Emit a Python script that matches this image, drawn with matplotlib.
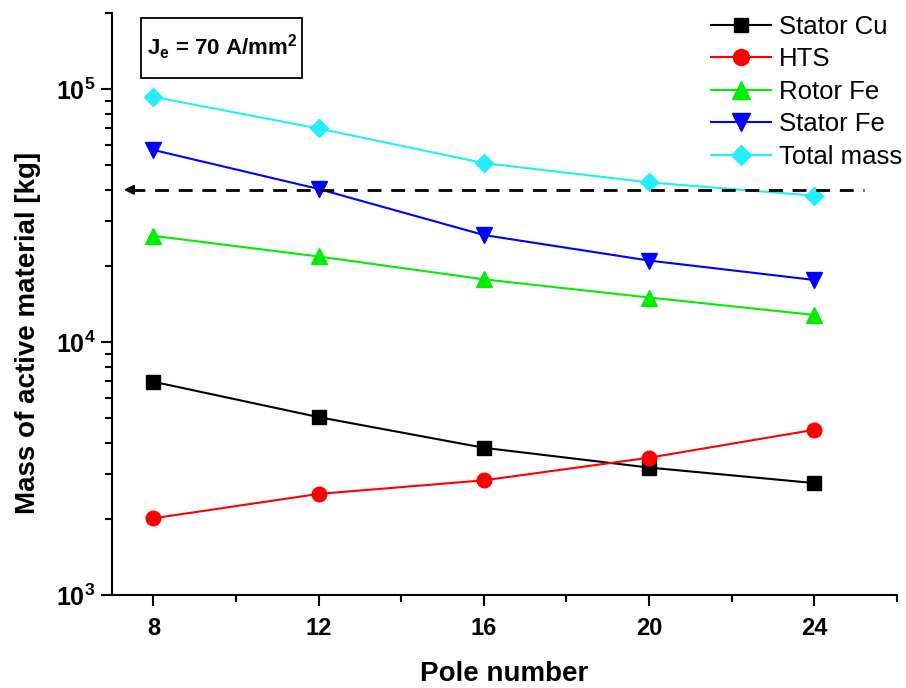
import numpy as np
import matplotlib
matplotlib.use('Agg')
import matplotlib.pyplot as plt
from matplotlib.patches import Rectangle
from matplotlib.ticker import FixedLocator, LogLocator, FuncFormatter, NullFormatter

plt.rcParams['font.family'] = ['Liberation Sans', 'DejaVu Sans']
plt.rcParams['mathtext.fontset'] = 'custom'
plt.rcParams['mathtext.rm'] = 'Liberation Sans'
plt.rcParams['mathtext.bf'] = 'Liberation Sans:bold'

# data
poles = [8, 12, 16, 20, 24]
stator_cu = [6970, 5050, 3820, 3190, 2770]
hts = [2010, 2510, 2840, 3490, 4500]
rotor_fe = [26300, 21800, 17700, 15000, 12800]
stator_fe = [57500, 40300, 26500, 21000, 17600]
total_mass = [93200, 69900, 51000, 42800, 37900]
limit_mass = 40000

fig = plt.figure(figsize=(9.06, 6.88), dpi=100)
ax = fig.add_axes([112 / 906, 1 - 595 / 688, 785 / 906, 582 / 688])

ax.plot(poles, stator_cu, color='black', marker='s', markersize=9.5, lw=1.5, label='Stator Cu')
ax.plot(poles, hts, color='#ff0000', marker='o', markersize=10.5, lw=1.5, label='HTS')
ax.plot(poles, rotor_fe, color='#00ee00', marker='^', markersize=12, lw=1.5, label='Rotor Fe')
ax.plot(poles, stator_fe, color='#0000ff', marker='v', markersize=12, lw=1.5, label='Stator Fe')
ax.plot(poles, total_mass, color='#22eeff', marker='D', markersize=9.5, lw=1.5, label='Total mass')

# dashed limit line with arrow pointing left
ax.plot([7.45, 25.2], [limit_mass, limit_mass], color='black', lw=2, ls=(0, (5, 3.5)))
ax.annotate('', xy=(7.22, limit_mass), xytext=(7.6, limit_mass),
            arrowprops=dict(arrowstyle='-|>', color='black', lw=1.5, mutation_scale=14))

ax.set_yscale('log')
ax.set_xlim(7, 26)
ax.set_ylim(1e3, 2e5)

ax.xaxis.set_major_locator(FixedLocator([8, 12, 16, 20, 24]))
ax.xaxis.set_minor_locator(FixedLocator([10, 14, 18, 22, 26]))
ax.yaxis.set_major_locator(LogLocator(base=10, numticks=10))
ax.yaxis.set_minor_locator(LogLocator(base=10, subs=np.arange(2, 10), numticks=10))
ax.yaxis.set_minor_formatter(NullFormatter())
ax.yaxis.set_major_formatter(FuncFormatter(
    lambda v, p: r'$\mathbf{10^{%d}}$' % int(round(np.log10(v)))))

for s in ['top', 'right']:
    ax.spines[s].set_visible(False)
for s in ['left', 'bottom']:
    ax.spines[s].set_linewidth(1.5)
ax.tick_params(which='major', length=8, width=1.5, direction='out')
ax.tick_params(which='minor', length=5, width=1.5, direction='out')
ax.tick_params(axis='x', labelsize=17, pad=8)
ax.tick_params(axis='y', labelsize=18, pad=4)
for lab in ax.get_xticklabels():
    lab.set_fontweight('bold')

ax.set_xlabel('Pole number', fontsize=20, fontweight='bold', labelpad=15)
ax.set_ylabel('Mass of active material [kg]', fontsize=20, fontweight='bold')
ax.yaxis.set_label_coords(-0.090, 0.45)

# annotation box
fig.add_artist(Rectangle((141 / 906, 1 - 78 / 688), 161 / 906, 60 / 688, transform=fig.transFigure,
                         fc='white', ec='black', lw=1.3))
fig.text(222 / 906, 1 - 47 / 688, r'$\mathbf{J_e}$ = 70 A/mm$^\mathbf{2}$',
         fontsize=16, fontweight='bold', ha='center', va='center')

ax.legend(loc='upper left', bbox_to_anchor=(711 / 906, 1 - 15 / 688), bbox_transform=fig.transFigure,
          frameon=False, fontsize=18.5, handlelength=2.35, handletextpad=0.3, labelspacing=0.33,
          borderpad=0, borderaxespad=0, markerscale=1.1)

fig.savefig('out.png', dpi=100)
